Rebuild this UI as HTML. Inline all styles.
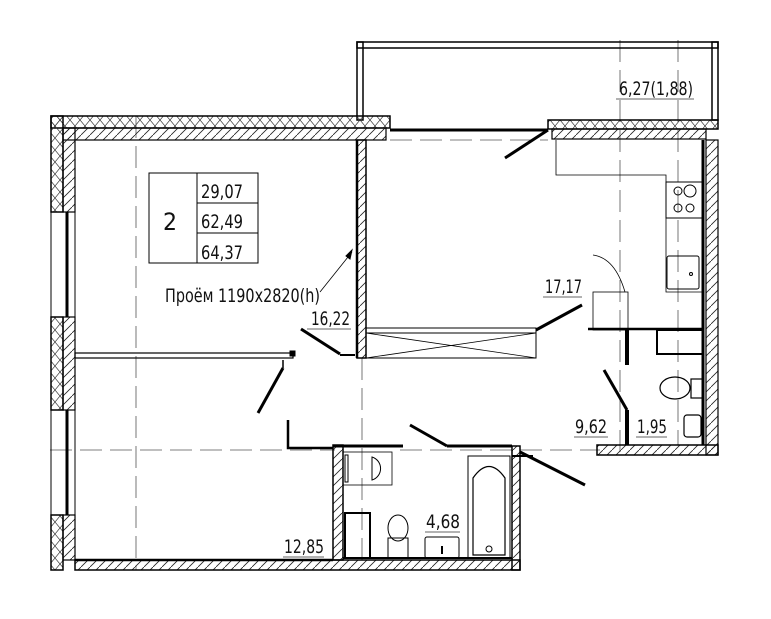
<!DOCTYPE html>
<html><head><meta charset="utf-8"><style>
html,body{margin:0;padding:0;background:#fff;}
svg{display:block;}
text{font-family:"DejaVu Sans Condensed","Liberation Sans",sans-serif;font-size:19px;fill:#111;}
</style></head><body>
<svg width="771" height="619" viewBox="0 0 771 619" xmlns="http://www.w3.org/2000/svg">
<defs>
<pattern id="hd" width="9" height="9" patternUnits="userSpaceOnUse"><path d="M0 9L9 0" stroke="#222" stroke-width="0.8"/></pattern>
<pattern id="hx" width="10" height="12" patternUnits="userSpaceOnUse"><path d="M0 0L10 12M10 0L0 12" stroke="#333" stroke-width="0.7"/></pattern>
</defs>
<g stroke="#000" fill="none">
<g stroke="#555" stroke-width="0.8" stroke-dasharray="22,8">
<line x1="136" y1="116" x2="136" y2="570"/>
<line x1="362" y1="358" x2="362" y2="560"/>
<line x1="620" y1="40" x2="620" y2="455"/>
<line x1="678" y1="40" x2="678" y2="445"/>
<line x1="50" y1="450" x2="335" y2="450"/>
<line x1="400" y1="450" x2="600" y2="450"/>
<line x1="390" y1="140" x2="548" y2="140"/>
</g>
<rect x="357" y="42" width="361" height="6" stroke-width="1.5"/>
<rect x="357" y="42" width="6" height="78" stroke-width="1.5"/>
<rect x="712" y="42" width="6" height="78" stroke-width="1.5"/>
<line x1="390" y1="130" x2="548" y2="130" stroke-width="3"/>
<rect x="51" y="116" width="339" height="12" fill="url(#hx)" stroke-width="1.5"/>
<rect x="63" y="128" width="323" height="12" fill="url(#hd)" stroke-width="1.2"/>
<rect x="51" y="116" width="12" height="96" fill="url(#hx)" stroke-width="1.5"/>
<rect x="63" y="128" width="12" height="84" fill="url(#hd)" stroke-width="1.2"/>
<rect x="51" y="317" width="12" height="93" fill="url(#hx)" stroke-width="1.5"/>
<rect x="63" y="317" width="12" height="93" fill="url(#hd)" stroke-width="1.2"/>
<rect x="51" y="515" width="12" height="55" fill="url(#hx)" stroke-width="1.5"/>
<rect x="63" y="515" width="12" height="45" fill="url(#hd)" stroke-width="1.2"/>
<rect x="51" y="212" width="24" height="105" stroke-width="1"/>
<line x1="67" y1="212" x2="67" y2="317" stroke-width="3"/>
<rect x="51" y="410" width="24" height="105" stroke-width="1"/>
<line x1="67" y1="410" x2="67" y2="515" stroke-width="3"/>
<rect x="75" y="560" width="445" height="10" fill="url(#hd)" stroke-width="1.5"/>
<line x1="75" y1="560" x2="333" y2="560" stroke-width="2.5"/>
<rect x="357" y="140" width="9" height="218" fill="url(#hd)" stroke-width="1.5"/>
<line x1="357" y1="140" x2="357" y2="358" stroke-width="2.5"/>
<rect x="366" y="328" width="170" height="30" stroke-width="1"/>
<line x1="366" y1="333" x2="536" y2="333" stroke-width="1"/>
<line x1="366" y1="333" x2="536" y2="358" stroke-width="0.8"/>
<line x1="366" y1="358" x2="536" y2="333" stroke-width="0.8"/>
<line x1="536" y1="330" x2="582" y2="305" stroke-width="3"/>
<line x1="355" y1="355" x2="340" y2="355" stroke-width="2"/>
<line x1="340" y1="354" x2="301" y2="329" stroke-width="3"/>
<rect x="548" y="120" width="170" height="9" fill="url(#hx)" stroke-width="1.5"/>
<rect x="552" y="129" width="154" height="10" fill="url(#hd)" stroke-width="1.2"/>
<line x1="548" y1="130" x2="505" y2="158" stroke-width="3"/>
<rect x="706" y="140" width="12" height="315" fill="url(#hd)" stroke-width="1.2"/>
<line x1="703" y1="140" x2="703" y2="445" stroke-width="3"/>
<rect x="597" y="445" width="121" height="10" fill="url(#hd)" stroke-width="1.5"/>
<polyline points="556,140 556,175 666,175 666,292 703,292" stroke-width="0.8"/>
<rect x="666" y="182" width="37" height="36" stroke-width="1"/>
<circle cx="678" cy="191" r="4" stroke-width="1"/><circle cx="690" cy="191" r="6" stroke-width="1"/>
<circle cx="678" cy="208" r="4" stroke-width="1"/><circle cx="690" cy="208" r="4" stroke-width="1"/>
<rect x="667" y="256" width="32" height="33" rx="2" stroke-width="1"/>
<circle cx="691" cy="274" r="1.5"/>
<rect x="593" y="292" width="35" height="38" stroke-width="0.8"/>
<path d="M593 255 Q615 258 625 292" stroke-width="0.8"/>
<line x1="588" y1="329" x2="703" y2="329" stroke-width="2.5"/>
<line x1="627" y1="329" x2="627" y2="365" stroke-width="4"/>
<rect x="657" y="330" width="46" height="24" stroke-width="2"/>
<ellipse cx="675" cy="388" rx="15" ry="11" stroke-width="1.2"/>
<rect x="691" y="379" width="12" height="19" stroke-width="1.2"/>
<rect x="684" y="415" width="17" height="22" rx="3" stroke-width="1.2"/>
<line x1="627" y1="410" x2="627" y2="445" stroke-width="4"/>
<line x1="627" y1="410" x2="604" y2="370" stroke-width="3"/>
<rect x="75" y="353" width="218" height="5" stroke-width="1.2"/>
<rect x="290" y="351" width="5" height="5" fill="#000"/>
<line x1="283" y1="360" x2="283" y2="368" stroke-width="1.5"/>
<line x1="283" y1="368" x2="258" y2="413" stroke-width="3"/>
<polyline points="288,420 288,448 333,448" stroke-width="2.5"/>
<rect x="333" y="445" width="10" height="115" fill="url(#hd)" stroke-width="1.5"/>
<line x1="333" y1="446" x2="403" y2="446" stroke-width="3"/>
<line x1="447" y1="446" x2="512" y2="446" stroke-width="3"/>
<line x1="447" y1="446" x2="410" y2="425" stroke-width="3"/>
<rect x="512" y="446" width="8" height="124" fill="url(#hd)" stroke-width="1.5"/>
<line x1="512" y1="456" x2="533" y2="456" stroke-width="2"/>
<line x1="520" y1="452" x2="585" y2="485" stroke-width="3"/>
<rect x="343" y="452" width="49" height="33" stroke-width="0.8"/>
<rect x="345" y="455" width="3" height="27" stroke-width="1"/>
<path d="M372 457 A12 12 0 0 1 372 480 Z" stroke-width="1"/>
<rect x="345" y="513" width="25" height="45" stroke-width="2"/>
<rect x="388" y="538" width="20" height="20" stroke-width="1"/>
<ellipse cx="398" cy="528" rx="10" ry="13" stroke-width="1"/>
<rect x="425" y="537" width="34" height="21" rx="2" stroke-width="1"/>
<line x1="442" y1="546" x2="442" y2="554" stroke-width="2"/>
<rect x="468" y="456" width="42" height="102" stroke-width="1"/>
<path d="M473 555 L473 478 Q489 455 505 478 L505 555 Z" stroke-width="1.2"/>
<circle cx="489" cy="549" r="3" stroke-width="1"/>
<line x1="343" y1="558" x2="512" y2="558" stroke-width="2"/>
<rect x="149" y="173" width="109" height="90" stroke-width="1"/>
<line x1="197" y1="173" x2="197" y2="263" stroke-width="1"/>
<line x1="197" y1="203" x2="258" y2="203" stroke-width="1"/>
<line x1="197" y1="233" x2="258" y2="233" stroke-width="1"/>
<line x1="320" y1="292" x2="352" y2="252" stroke-width="0.8"/>
<path d="M352 250 L346 256 L350 259 Z" fill="#000"/>
<g stroke-width="0.8" stroke="#333">
<line x1="307" y1="329" x2="351" y2="329"/>
<line x1="543" y1="297" x2="582" y2="297"/>
<line x1="616" y1="99" x2="694" y2="99"/>
<line x1="574" y1="437" x2="608" y2="437"/>
<line x1="636" y1="437" x2="667" y2="437"/>
<line x1="425" y1="532" x2="460" y2="532"/>
<line x1="283" y1="557" x2="324" y2="557"/>
</g>
</g>
<text x="163" y="230" style="font-size:24px" textLength="14" lengthAdjust="spacingAndGlyphs">2</text>
<text x="201" y="198" textLength="42" lengthAdjust="spacingAndGlyphs">29,07</text>
<text x="201" y="228" textLength="42" lengthAdjust="spacingAndGlyphs">62,49</text>
<text x="201" y="259" textLength="42" lengthAdjust="spacingAndGlyphs">64,37</text>
<text x="165" y="302" textLength="155" lengthAdjust="spacingAndGlyphs">Проём 1190x2820(h)</text>
<text x="311" y="325" textLength="39" lengthAdjust="spacingAndGlyphs">16,22</text>
<text x="545" y="293" textLength="37" lengthAdjust="spacingAndGlyphs">17,17</text>
<text x="619" y="95" textLength="74" lengthAdjust="spacingAndGlyphs">6,27(1,88)</text>
<text x="575" y="433" textLength="32" lengthAdjust="spacingAndGlyphs">9,62</text>
<text x="637" y="433" textLength="30" lengthAdjust="spacingAndGlyphs">1,95</text>
<text x="426" y="528" textLength="34" lengthAdjust="spacingAndGlyphs">4,68</text>
<text x="284" y="553" textLength="40" lengthAdjust="spacingAndGlyphs">12,85</text>
</svg>
</body></html>
